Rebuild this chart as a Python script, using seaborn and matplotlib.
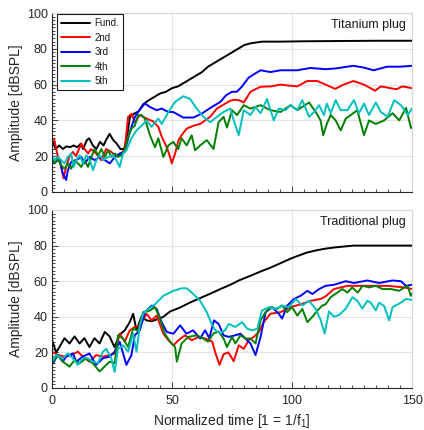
import numpy as np
import pandas as pd
import seaborn as sns
import matplotlib
matplotlib.use("Agg")
import matplotlib.pyplot as plt
from matplotlib.ticker import MultipleLocator

# ---------------- Titanium plug ----------------
t_fund_ti = [0, 1.5, 3, 4.5, 6, 7.5, 9, 10.5, 12, 13, 14.5, 15.5, 17, 18.5, 20, 21.5, 22.5, 24, 25.5, 27,
             28.5, 30, 31, 32.5, 34.5, 36, 38, 40, 42.5, 45, 47.5, 50, 52.5, 55, 57.5, 60, 62.5, 65, 67.5, 70,
             72.5, 75, 77.5, 80, 82.5, 85, 87.5, 95, 105, 115, 125, 135, 150]
fund_ti = [29, 24, 26, 24, 25.5, 25, 26, 25, 27, 24, 29, 30, 26, 24, 28, 26, 29, 32.5, 29, 27,
           24, 24, 29, 42, 44, 45, 49, 51, 53, 55, 56, 58, 59, 61, 63, 65, 67, 70, 72, 74,
           76, 78, 80, 82, 83, 83.5, 84, 84, 84.2, 84.3, 84.4, 84.5, 84.5]

t_2nd_ti = [0, 1, 2.4, 3.8, 4.8, 5.9, 7.3, 8.7, 10, 12.2, 13.6, 15, 16.3, 18.4, 20.5, 22.6, 24.7, 26.8, 28.9, 30.3,
            31.7, 33.1, 34.5, 36.6, 39.4, 42.2, 44.3, 45.7, 47.8, 49.2, 49.9, 51.3, 52.7, 54, 56.1, 58.9, 61.7, 65.9, 68.7, 72.2,
            74.3, 76.3, 78.5, 79.9, 82.7, 86.9, 91, 95.2, 98.5, 102.2, 106.4, 110.6, 114, 118, 121.5, 125.6, 130, 134.6, 137, 143.5,
            146, 150]
h2_ti = [30, 29, 20, 14, 7.6, 14, 20, 22.4, 20, 27, 24, 21.5, 24, 21.5, 17.8, 24, 22.4, 20, 21.5, 24,
         41.8, 43.7, 39, 43, 41, 39.4, 36.4, 31, 25, 19.6, 16, 21.5, 29, 31.7, 35.4, 37, 38, 42, 46.6, 49.4,
         51, 51.6, 51, 50, 56, 58.8, 59, 60, 59.5, 59, 62, 62, 60, 57.6, 60, 62, 60, 56.6, 59, 57.4,
         59, 58]

t_3rd_ti = [0, 1, 3.1, 4.5, 5.9, 6.6, 8, 10.1, 12.2, 13.6, 15.7, 17.8, 19.9, 22, 24.1, 26.2, 28.2, 30.3, 32.4, 34.5,
            36.6, 38.7, 40.8, 43.6, 45.7, 48.5, 50.5, 54.7, 58.9, 62.4, 66.6, 70.1, 72.5, 75, 77, 79, 82, 86.9, 91, 95.2,
            102.2, 107.6, 114, 118, 125.6, 130, 134, 139.6, 145, 150]
h3_ti = [17.8, 16, 18.7, 10.4, 6.7, 12, 16.9, 17.8, 19.6, 16, 19.6, 17.8, 19.6, 17.8, 16, 19.6, 21.5, 22.4, 33.5, 41.8,
         46, 49.5, 47.5, 45.7, 46.6, 44.7, 44.7, 41.6, 41.6, 43.8, 47.5, 50.3, 54, 56, 56, 58.7, 64, 68, 67, 68,
         68, 69.3, 68.6, 69, 70.5, 69.5, 68, 70, 70, 70.5]

t_4th_ti = [0, 1, 2.4, 3.8, 5.2, 6.6, 8, 9.4, 10.8, 12.2, 13.6, 15, 16.4, 17.8, 19.2, 20.6, 22, 23.4, 24.8, 26.2,
            27.5, 28.9, 30.3, 31.7, 33.1, 34.5, 35.9, 37.3, 38.7, 40.8, 42.9, 44.3, 46.4, 48.5, 50.5, 52.6, 54, 56.1, 58.2, 59.6,
            61.7, 64.5, 67.3, 69.4, 71.5, 72.9, 75, 77.1, 79.9, 82.7, 86.9, 91, 95.2, 99.4, 102.2, 107.1, 109.9, 111.9, 113, 114.5,
            116.1, 118.2, 120.3, 122.4, 124.5, 127.2, 130, 132.1, 134.9, 138.4, 141.9, 144.7, 147.5, 149.6, 150]
h4_ti = [17.8, 16, 18.7, 15, 13, 16, 13, 17.8, 16, 14, 17.8, 14, 19.6, 24, 20.5, 24, 19.6, 23.3, 19.6, 21.5,
         19.6, 20.5, 23.3, 30.7, 35.4, 37, 42.8, 43, 41, 31.7, 25, 30, 19.6, 26, 28, 24, 30, 26, 31.7, 23.3,
         26, 29, 24, 39, 42, 36, 45.7, 43, 48.5, 46.6, 48.5, 45.7, 44.7, 48.5, 45.7, 50, 44.7, 40, 31.7, 38,
         43, 40, 34.4, 41, 43, 45.7, 31.7, 40, 38, 40, 44, 40, 47, 35.7, 36]

t_5th_ti = [0, 1, 2.4, 3.8, 5.2, 6.6, 8, 9, 10.1, 11.5, 12.9, 14.3, 15.7, 17.1, 18.5, 19.9, 21.3, 23.4, 25.5, 26.8,
            28.2, 29.6, 31, 33.1, 35.2, 37.3, 39.4, 41.5, 44.3, 45.7, 48.5, 51.2, 54.7, 57.5, 60.3, 63.1, 65.9, 68.7, 71.5, 74.3,
            75.7, 77.8, 79.9, 82.7, 84.8, 86.9, 89.6, 92.4, 94.5, 97.3, 99.4, 102.2, 104.3, 107.1, 109.2, 111.3, 113.3, 114.5, 116.1, 118.2,
            120.3, 123.1, 125.8, 127.9, 130, 132.1, 134.9, 137, 139.8, 142.6, 145.4, 148.2, 150]
h5_ti = [20.5, 17.8, 19.6, 17.8, 16, 19.6, 21.5, 14, 17.8, 20.5, 16, 20.5, 17.8, 12.2, 17.8, 20.5, 17.8, 19.6, 20.5, 17.8,
         14, 21.5, 23.3, 30, 34.4, 37, 40, 36.4, 41, 38, 44.7, 50.3, 53.5, 52, 46.6, 42, 39, 42, 44.7, 46.6,
         40, 31.7, 45.7, 43, 47.5, 44, 52, 40, 46.6, 45.7, 48.5, 45.7, 51.3, 42, 44.7, 48.5, 43, 49.4, 44, 51.3,
         45.7, 45.7, 51.3, 44, 49.4, 43, 50, 44.7, 42, 51.3, 48.5, 43, 46.6]

# ---------------- Traditional plug ----------------
t_fund_tr = [0, 1.7, 3.1, 5.2, 7.3, 9.4, 11.5, 13.5, 15.6, 17.7, 19.8, 22, 24, 26, 28.2, 30.3, 32.4, 33.8, 35.2, 37.3,
             39.4, 41.5, 43.6, 46.4, 49.2, 53, 57.5, 61.7, 66, 70, 74.3, 78, 82.6, 87, 91, 95, 100, 103, 106, 110,
             114, 118, 125.6, 135, 150]
fund_tr = [27, 20, 23, 28, 25, 29, 25, 28, 23, 28, 25, 31.5, 29, 23, 30, 32.4, 37, 41.7, 32.4, 40,
           38, 37.5, 38.5, 40, 43, 45, 48, 50.5, 53, 55.5, 58, 60.5, 63, 65.5, 67.6, 70, 73, 74.5, 76, 77.3,
           78.3, 79, 80, 80, 80]

t_2nd_tr = [0, 2.4, 5.2, 8, 10.8, 12.8, 15.6, 18.4, 21.2, 24, 26.1, 28.2, 30.3, 32.4, 34.5, 36.6, 39.4, 41.5, 43.6, 46.4,
            48.5, 50.6, 52.7, 55.4, 58.2, 61, 63.8, 66.8, 68, 69.8, 71.5, 73.5, 75.7, 77.8, 79.9, 82, 84.1, 86.2, 88.2, 91,
            95.2, 99.4, 103.6, 107.8, 111.9, 114, 117.5, 123.1, 131.4, 139.8, 146.8, 150]
h2_tr = [20.4, 18.5, 17.6, 18.5, 20.4, 17.6, 14.8, 18.5, 17.6, 18.5, 19.4, 30.5, 26, 32.4, 34.3, 35.2, 41.7, 38, 40.7, 30.5,
         26.8, 24, 26.8, 29.6, 26.8, 28.7, 27.8, 26, 20, 13, 19, 20, 15, 24, 22, 27, 28.7, 31.5, 37, 41.7,
         42.6, 45.4, 47, 49, 50, 51.5, 55.6, 57.4, 57.4, 57.4, 56.5, 55.6]

t_3rd_tr = [0, 2.4, 4.5, 5.9, 8.7, 10.1, 12.8, 15.6, 18.4, 21.2, 24, 26.1, 28.2, 31, 33.1, 34.5, 36.6, 38.7, 41.5, 43.6,
            45.7, 47.8, 50.6, 53.4, 56, 58.8, 61.7, 63.8, 65.5, 67.5, 69.4, 71.5, 73.6, 76.4, 78.5, 80.6, 82.7, 84.8, 86.9, 89,
            91.7, 94.5, 95.9, 98, 100.8, 103.6, 106.4, 108.5, 111.3, 114, 117.5, 122.4, 125.8, 131.4, 136.3, 141.9, 145.4, 147.5, 150]
h3_tr = [13, 18.5, 14.8, 17.6, 19.4, 14.8, 17.6, 19.4, 13, 16.7, 17.6, 20.4, 26, 13, 18.5, 29.6, 32.4, 42.6, 46.3, 44.4,
         37, 31.5, 30.5, 35.2, 30.5, 32.4, 27.8, 32.4, 28, 38, 36, 29.6, 28.7, 29.6, 30.5, 27.8, 25, 18.5, 28.7, 42.6,
         45.4, 41.7, 39, 46.3, 50, 51.8, 54.6, 52.8, 55.6, 57.4, 58, 60, 59, 60.4, 59, 60.4, 60, 57.4, 58]

t_4th_tr = [0, 2.4, 4.5, 7.3, 9.4, 11.5, 14.2, 17, 19.8, 21.9, 24, 26.1, 27.5, 29.6, 31.7, 33.8, 35.9, 38, 40.8, 42.9,
            45, 47, 49.2, 51.3, 52, 54, 56.8, 60.3, 63, 65, 67.3, 69.4, 71.5, 72.9, 75, 76.4, 78.5, 80.6, 82.7, 84.8,
            86.9, 89, 91, 93.7, 95.9, 98, 100, 102.2, 104.3, 106.4, 108.5, 110.6, 112.6, 114, 116.1, 118.9, 121, 123.1, 125.1, 127.4,
            129.4, 132.1, 134.9, 137.7, 141.2, 144.7, 146.8, 148.2, 149.5, 150]
h4_tr = [14, 18.5, 14.8, 12, 15.7, 13.9, 16.7, 13.9, 9.3, 12, 14.8, 13.9, 29.6, 27.8, 23, 33.3, 32.4, 42.6, 43.5, 45.4,
         38.9, 30.5, 26, 23, 14.8, 25, 28.7, 29.6, 27.8, 26, 30.7, 31.7, 27.8, 23, 28.7, 25, 29.6, 27.8, 27.8, 25,
         38, 42.6, 45.4, 44.4, 46.3, 42.6, 45.4, 40.7, 44.4, 37, 40, 43.5, 46.3, 47, 51, 53.6, 55.6, 53.6, 56.5, 53.6,
         57.4, 56.5, 57.4, 55.6, 55.6, 54.6, 56.5, 57.4, 51.8, 53]

t_5th_tr = [0, 1.7, 4.5, 6.6, 8.7, 10.8, 12.8, 14.9, 17, 19.1, 21.2, 22.6, 24.7, 26.1, 27.5, 29.6, 31.7, 33.8, 35.2, 36.6,
            38, 40.1, 42.9, 46.4, 50.6, 54, 56.1, 58.9, 61.7, 64.5, 66.5, 68, 70.1, 72.2, 73.6, 76.4, 79.2, 81.3, 83.4, 85.5,
            87.5, 90.3, 93.1, 95.9, 98.7, 101.5, 104.3, 107.1, 109.9, 112, 113.6, 115.4, 117.5, 119.6, 122.4, 125.2, 127.2, 129.3, 131.4, 132.8,
            134.9, 136.3, 138.4, 140.5, 141.9, 144.7, 147.5, 150]
h5_tr = [14.8, 18.5, 16.7, 19.4, 16.7, 13, 16.7, 16.7, 14.8, 13.9, 20.4, 22, 16.7, 9, 22, 24, 20.4, 30.5, 20.4, 35,
         41.7, 44.4, 47, 51.8, 54.6, 56, 56, 52.8, 49, 42.6, 36, 32.6, 30.7, 32.6, 36, 34.3, 37, 33.3, 32.4, 33.3,
         43.5, 45.4, 44.4, 46.3, 45.4, 50, 46.3, 49, 44.4, 38, 30.5, 43, 40, 41, 44.6, 51, 49, 44.6, 49, 48,
         43.6, 48, 46, 38, 45.5, 47.4, 50, 49.5]

series_names = ["Fund.", "2nd", "3rd", "4th", "5th"]
series_colors = ["#000000", "#FF0000", "#0000FF", "#008000", "#00BFBF"]
panel_titles = ["Titanium plug", "Traditional plug"]

panels = [
    [(t_fund_ti, fund_ti), (t_2nd_ti, h2_ti), (t_3rd_ti, h3_ti), (t_4th_ti, h4_ti), (t_5th_ti, h5_ti)],
    [(t_fund_tr, fund_tr), (t_2nd_tr, h2_tr), (t_3rd_tr, h3_tr), (t_4th_tr, h4_tr), (t_5th_tr, h5_tr)],
]

sns.set_theme(style="white")
plt.rcParams["font.family"] = ["Liberation Sans", "DejaVu Sans"]
plt.rcParams["mathtext.fontset"] = "custom"
plt.rcParams["mathtext.rm"] = "Liberation Sans"
plt.rcParams["mathtext.it"] = "Liberation Sans"

fig = plt.figure(figsize=(4.24, 4.30), dpi=100)
W, H = 424, 430
ax_top = fig.add_axes([52 / W, 1 - 192 / H, 360 / W, 179 / H])
ax_bot = fig.add_axes([52 / W, 1 - 388 / H, 360 / W, 178 / H])
text_col = "#262626"

for ax, series, title in zip([ax_top, ax_bot], panels, panel_titles):
    for (t, v), name, col in zip(series, series_names, series_colors):
        df = pd.DataFrame({"t": t, "amp": v})
        sns.lineplot(data=df, x="t", y="amp", color=col, lw=1.4, label=name,
                     ax=ax, estimator=None, sort=True)
    ax.set_xlim(0, 150)
    ax.set_ylim(0, 100)
    ax.xaxis.set_major_locator(MultipleLocator(50))
    ax.xaxis.set_minor_locator(MultipleLocator(5))
    ax.yaxis.set_major_locator(MultipleLocator(20))
    ax.yaxis.set_minor_locator(MultipleLocator(2))
    ax.grid(True, which="major", color="#e3e3e3", lw=0.8)
    ax.set_axisbelow(True)
    ax.tick_params(which="both", direction="in", colors=text_col, labelsize=9,
                   bottom=True, left=True, top=False, right=False, width=0.6)
    ax.tick_params(which="major", length=4)
    ax.tick_params(which="minor", length=2)
    ax.tick_params(axis="x", pad=5)
    ax.tick_params(axis="y", pad=3)
    for side in ["left", "bottom"]:
        ax.spines[side].set_color(text_col)
        ax.spines[side].set_linewidth(0.8)
    for side in ["top", "right"]:
        ax.spines[side].set_color("#d6d6d6")
        ax.spines[side].set_linewidth(0.8)
    ax.set_ylabel("Amplitude [dBSPL]", fontsize=10, color=text_col)
    ax.yaxis.set_label_coords(-0.08, 0.5)
    ax.set_xlabel("")
    ax.text(0.983, 0.935, title, transform=ax.transAxes, ha="right", va="center",
            fontsize=9, color="#1a1a1a")

ax_top.tick_params(axis="x", labelbottom=False)
ax_bot.get_legend().remove()
leg = ax_top.legend(loc="upper left", bbox_to_anchor=(0.014, 0.994), borderaxespad=0,
                    fontsize=7, handlelength=2.9, handletextpad=0.5, labelspacing=0.45,
                    borderpad=0.45, frameon=True, fancybox=False, framealpha=1)
leg.get_frame().set_edgecolor("#1a1a1a")
leg.get_frame().set_linewidth(0.8)
for txt in leg.get_texts():
    txt.set_color("#1a1a1a")

ax_bot.set_xlabel("Normalized time [1 = 1/f$_1$]", fontsize=10, color=text_col)
ax_bot.xaxis.set_label_coords(0.5, -0.135)

fig.savefig("out.png", dpi=100)
